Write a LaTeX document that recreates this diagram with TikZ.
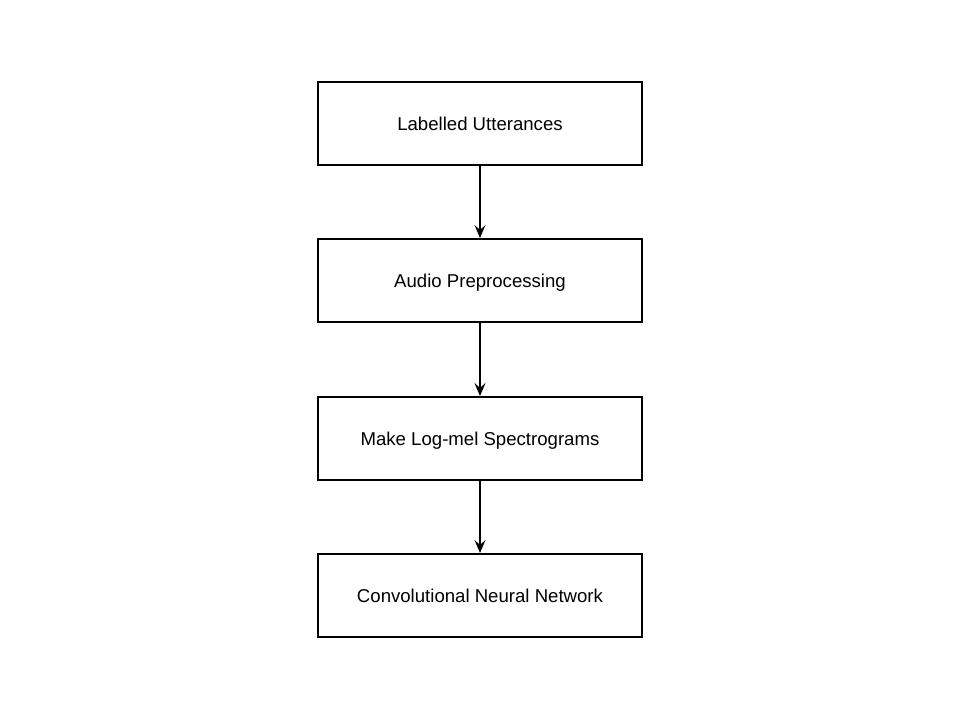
\documentclass[tikz,border=0pt]{standalone}
\usepackage{fontspec}
\setmainfont{Liberation Sans}
\usetikzlibrary{arrows.meta}
\begin{document}
\begin{tikzpicture}[x=1pt,y=-1pt,
  stepbox/.style={draw=black,line width=2pt,minimum width=324pt,minimum height=83pt,inner sep=0pt,text depth=0pt,font=\fontsize{18.6}{22}\selectfont},
  conn/.style={line width=2pt,-{Stealth[length=13pt,width=11pt,inset=5pt]}}]
\useasboundingbox (0,0) rectangle (960,720);
\node[stepbox] (a) at (480,123.5) {Labelled Utterances};
\node[stepbox] (b) at (480,280.5) {Audio Preprocessing};
\node[stepbox] (c) at (480,438.5) {Make Log-mel Spectrograms};
\node[stepbox] (d) at (480,595.5) {Convolutional Neural Network};
\draw[conn] (a) -- (b);
\draw[conn] (b) -- (c);
\draw[conn] (c) -- (d);
\end{tikzpicture}
\end{document}
